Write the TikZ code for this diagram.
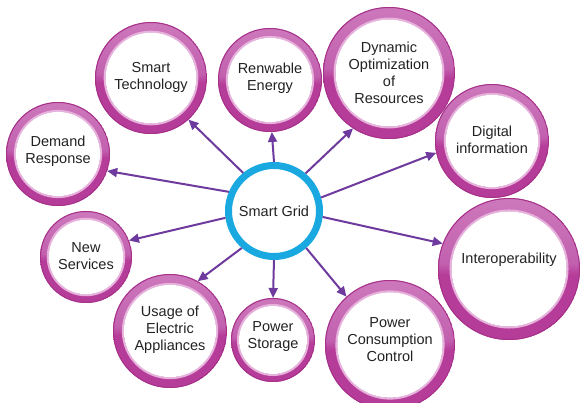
\documentclass[tikz,border=0pt]{standalone}
\usepackage{fontspec}
\setmainfont{Liberation Sans}
\usetikzlibrary{arrows.meta}
\definecolor{ringtop}{HTML}{CD78BC}
\definecolor{ringmid}{HTML}{C261AF}
\definecolor{ringbot}{HTML}{B63C99}
\definecolor{ringedge}{HTML}{A63189}
\definecolor{ringinner}{HTML}{E6B2DC}
\definecolor{arrowc}{HTML}{6E3A9E}
\definecolor{hubblue}{HTML}{1AA8E0}
\definecolor{txt}{HTML}{222222}
\pgfdeclareverticalshading{ringshade}{100bp}{color(0bp)=(ringbot); color(25bp)=(ringbot); color(48bp)=(ringbot); color(52bp)=(ringmid); color(75bp)=(ringtop); color(100bp)=(ringtop)}
\begin{document}
\begin{tikzpicture}[x=1pt,y=-1pt,
  ring/.style={circle, draw=none, minimum size=#1pt, inner sep=0pt, outer sep=0pt,
    shading=ringshade,
    path picture={
      \draw[ringedge, line width=1pt] (path picture bounding box.center) circle ({0.5*#1pt-0.5pt});
      \draw[ringinner, line width=2pt] (path picture bounding box.center) circle ({0.405*#1pt+1pt});
      \fill[white] (path picture bounding box.center) circle ({0.405*#1pt});
    }},
  lbl/.style={align=center, text=txt, font=\fontsize{14.5}{17}\selectfont, inner sep=0pt},
  conn/.style={draw=arrowc, line width=2pt, -{Triangle[length=10pt,width=9pt]}}]
\useasboundingbox (0,0) rectangle (582,403);
\fill[white] (0,0) rectangle (582,403);

\node[ring=112] (tech) at (151,78) {};
\node[ring=104] (renew) at (270,80) {};
\node[ring=132] (dyn) at (389,73) {};
\node[ring=114] (digi) at (492,141) {};
\node[ring=104] (demand) at (58,154) {};
\node[ring=92] (newsv) at (86,257) {};
\node[ring=114] (usage) at (170,331) {};
\node[ring=84] (storage) at (273,340) {};
\node[ring=130] (pcc) at (390,345) {};
\node[ring=142] (inter) at (509,269) {};

\node[lbl] (techtxt) at (151,77) {Smart\\Technology};
\node[lbl] (renewtxt) at (270,78) {Renwable\\Energy};
\node[lbl] (dyntxt) at (389,73) {Dynamic\\Optimization\\of\\Resources};
\node[lbl] (digitxt) at (492,140) {Digital\\information};
\node[lbl] (demandtxt) at (58,151) {Demand\\Response};
\node[lbl] (newsvtxt) at (86,256) {New\\Services};
\node[lbl] (usagetxt) at (170,330) {Usage of\\Electric\\Appliances};
\node[lbl] (storagetxt) at (273,337) {Power\\Storage};
\node[lbl] (pcctxt) at (390,340) {Power\\Consumption\\Control};
\node[lbl] (intertxt) at (509,260) {Interoperability};

\node[circle, draw=hubblue, line width=7pt, minimum size=91pt, inner sep=0pt, fill=white,
  text=txt, font=\fontsize{14.5}{17}\selectfont] (hub) at (274,211) {Smart Grid};

\draw[conn] (hub.129) -- (tech.-48);
\draw[conn] (hub.90) -- (renew.-88);
\draw[conn] (hub.50) -- (dyn.-123);
\draw[conn] (hub.16) -- (digi.-168);
\draw[conn] (hub.-7) -- (inter.159);
\draw[conn] (hub.-49) -- (pcc.132);
\draw[conn] (hub.-90) -- (storage.90);
\draw[conn] (hub.-131) -- (usage.61);
\draw[conn] (hub.-172) -- (newsv.21);
\draw[conn] (hub.157) -- (demand.-19);
\end{tikzpicture}
\end{document}
